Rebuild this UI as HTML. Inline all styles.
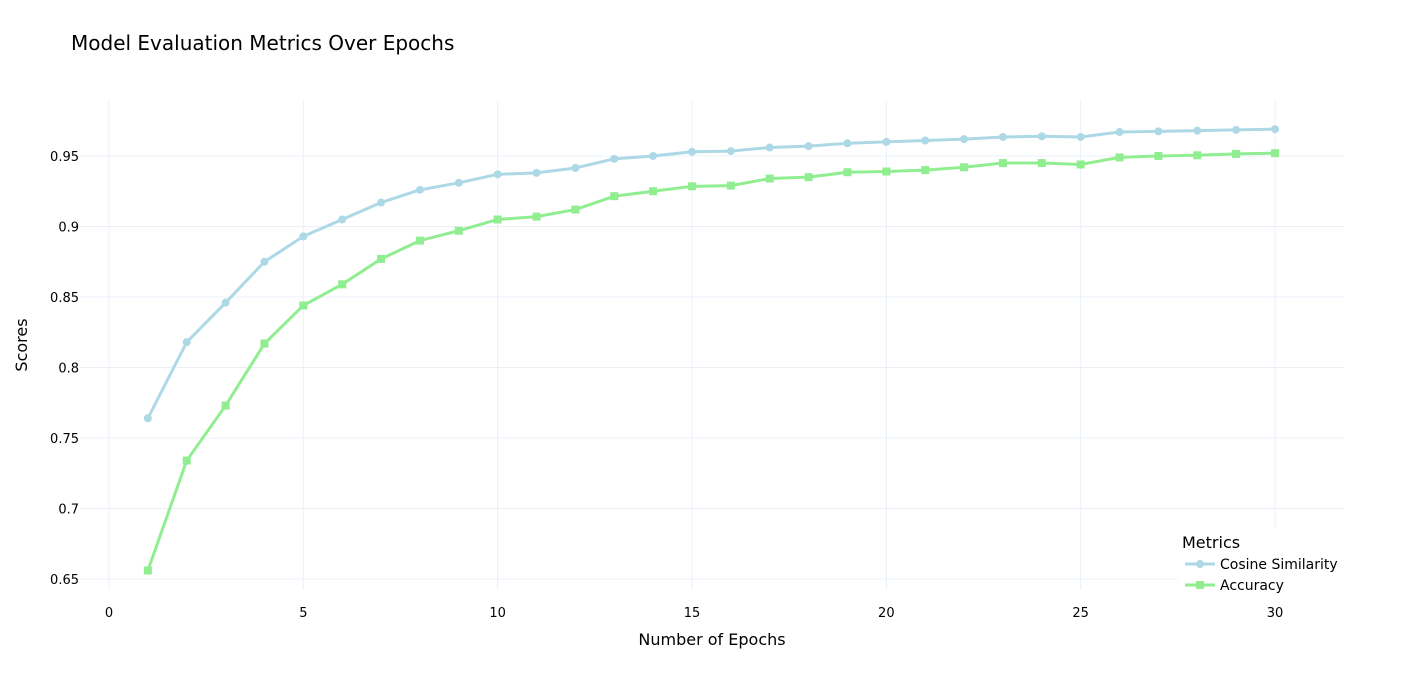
<!DOCTYPE html>
<html><head><meta charset="utf-8"><style>
body{margin:0;background:#fff;font-family:"DejaVu Sans","Liberation Sans",sans-serif;}
svg text{font-family:"DejaVu Sans","Liberation Sans",sans-serif;}
</style></head><body>
<svg id="chart" width="1424" height="681" xmlns="http://www.w3.org/2000/svg">
<rect width="1424" height="681" fill="#fff"/>
<text x="71" y="50" font-size="20" fill="#000">Model Evaluation Metrics Over Epochs</text>
<g id="grid"></g>
<g id="series"></g>
<text x="712" y="645" font-size="16" text-anchor="middle" fill="#000">Number of Epochs</text>
<text x="27" y="345" font-size="16" text-anchor="middle" fill="#000" transform="rotate(-90 27 345)">Scores</text>
<g>
<rect x="1178" y="528" width="166" height="72" fill="#fff"/>
<text x="1182" y="548" font-size="16" fill="#000">Metrics</text>
<g>
<line x1="1185" y1="564" x2="1215" y2="564" stroke="#add8e6" stroke-width="3"/>
<circle cx="1200" cy="564" r="4" fill="#add8e6"/>
<text x="1220" y="569" font-size="14" fill="#000">Cosine Similarity</text></g>
<g>
<line x1="1185" y1="585" x2="1215" y2="585" stroke="#90ee90" stroke-width="3"/>
<rect x="1196" y="581" width="8" height="8" fill="#90ee90"/>
<text x="1220" y="590" font-size="14" fill="#000">Accuracy</text></g>
</g>
</svg>
<script>
const epochs=[1,2,3,4,5,6,7,8,9,10,11,12,13,14,15,16,17,18,19,20,21,22,23,24,25,26,27,28,29,30];
const cosine=[0.764,0.818,0.846,0.875,0.893,0.905,0.917,0.926,0.931,0.937,0.938,0.9415,0.948,0.950,0.953,0.9535,0.956,0.957,0.959,0.960,0.961,0.962,0.9635,0.964,0.9635,0.967,0.9675,0.968,0.9685,0.969];
const accuracy=[0.656,0.734,0.773,0.817,0.844,0.859,0.877,0.890,0.897,0.905,0.907,0.912,0.9215,0.925,0.9285,0.929,0.934,0.935,0.9385,0.939,0.940,0.942,0.945,0.945,0.944,0.949,0.950,0.9505,0.9515,0.952];
const xTicks=[0,5,10,15,20,25,30];
const yTicks=[0.65,0.7,0.75,0.8,0.85,0.9,0.95];
const yTickLabels=["0.65","0.7","0.75","0.8","0.85","0.9","0.95"];
const NS="http://www.w3.org/2000/svg";
const L=80,R=1344,T=100,B=590;
function xs(v){return 109+v*(1275-109)/30;}
function ys(v){return 156+(0.95-v)*1410;}
function mk(t,a,p){const e=document.createElementNS(NS,t);for(const k in a)e.setAttribute(k,a[k]);p.appendChild(e);return e;}
const grid=document.getElementById('grid');
xTicks.forEach(t=>{
  const l=mk('line',{x1:xs(t),x2:xs(t),y1:T,y2:B,stroke:'#ebf0f8','stroke-width':1},grid);
  
  
  const tx=mk('text',{x:xs(t),y:617,'font-size':13,'text-anchor':'middle',fill:'#000'},grid);
  tx.textContent=t;
  
  
});
yTicks.forEach((t,i)=>{
  const l=mk('line',{x1:L,x2:R,y1:ys(t),y2:ys(t),stroke:'#ebf0f8','stroke-width':1},grid);
  
  
  const tx=mk('text',{x:79,y:ys(t)+5,'font-size':13,'text-anchor':'end',fill:'#000'},grid);
  tx.textContent=yTickLabels[i];
  
  
});
const sg=document.getElementById('series');
function draw(vals,color,shape,name){
  const g=mk('g',{},sg);
  
  
  const pts=epochs.map((e,i)=>xs(e)+','+ys(vals[i])).join(' ');
  mk('polyline',{points:pts,fill:'none',stroke:color,'stroke-width':3,'stroke-linejoin':'round'},g);
  epochs.forEach((e,i)=>{
    let m;
    if(shape==='circle') m=mk('circle',{cx:xs(e),cy:ys(vals[i]),r:4,fill:color},g);
    else m=mk('rect',{x:xs(e)-4,y:ys(vals[i])-4,width:8,height:8,fill:color},g);
    
    
  });
}
draw(cosine,'#add8e6','circle','cosine-similarity-line');
draw(accuracy,'#90ee90','square','accuracy-line');
</script>
</body></html>
